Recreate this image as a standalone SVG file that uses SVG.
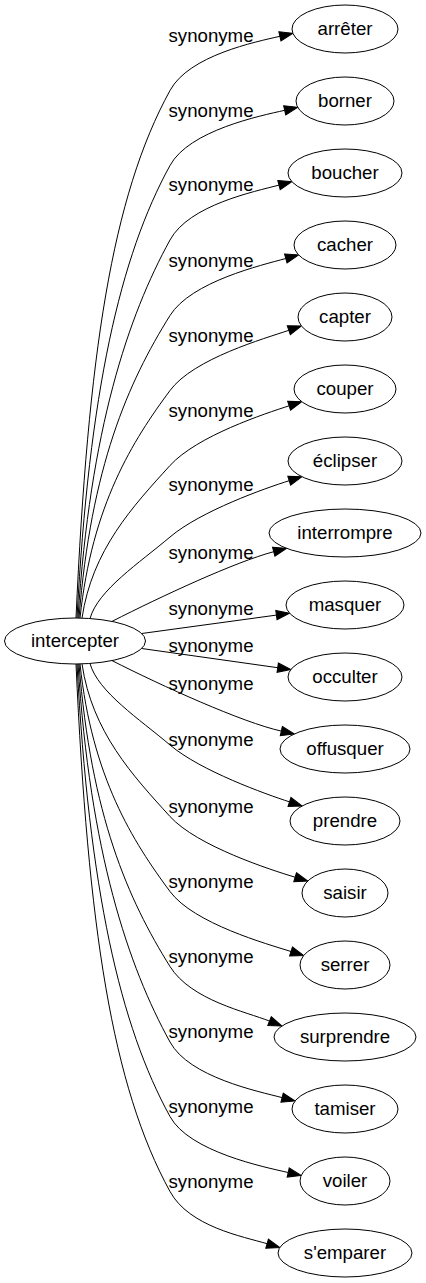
<svg xmlns="http://www.w3.org/2000/svg" width="426" height="1283" viewBox="0 0 426 1283">
<defs>
<style>
.node ellipse{fill:#fff;stroke:#000;stroke-width:1}
text{font-family:"Liberation Sans",Arial,sans-serif;font-size:18.67px;fill:#000;text-anchor:middle}
.edge path{fill:none;stroke:#000;stroke-width:1;marker-end:url(#arr)}
</style>
<marker id="arr" viewBox="0 0 13.3 10" refX="0" refY="5" markerWidth="13.3" markerHeight="10" markerUnits="userSpaceOnUse" orient="auto" overflow="visible">
<path d="M0,0.3 L13.3,5 L0,9.7 Z" fill="#000" stroke="#000" stroke-width="1"/>
</marker>
</defs>
<rect width="426" height="1283" fill="#fff"/>
<g id="edges">
<g class="edge"><path d="M76,618 C88,354.3 112,196 170,90.5 C189.1,55.3 255.6,41.9 279.9,36.3"/><text x="211" y="41.5">synonyme</text></g>
<g class="edge"><path d="M77,618 C89,391.8 120.2,256 170,165.5 C189.1,130.3 260.4,115.8 284.7,110.3"/><text x="211" y="116.5">synonyme</text></g>
<g class="edge"><path d="M78,618 C90,429 128.4,315.6 170,240 C189.1,204.8 254.9,191.5 279,185.1"/><text x="211" y="191">synonyme</text></g>
<g class="edge"><path d="M79,618 C91,466.8 128.1,382.5 170,315.5 C191.2,281.6 261.7,265.1 285.8,258.5"/><text x="211" y="266.5">synonyme</text></g>
<g class="edge"><path d="M80,618.1 C92,504.3 133.2,440.2 170,390.5 C193.8,358.4 265.2,338.4 288.8,330.3"/><text x="211" y="341.5">synonyme</text></g>
<g class="edge"><path d="M82,618.1 C92,550 133,506.2 170,465.5 C196.9,435.9 265.3,413.5 289.1,405.8"/><text x="211" y="416.5">synonyme</text></g>
<g class="edge"><path d="M90,618.5 C98,590 139.5,562.9 170,537 C200.5,511.1 265.4,488.1 289.2,480.7"/><text x="211" y="491">synonyme</text></g>
<g class="edge"><path d="M112,621.4 C162,596 235,562 273.7,551.7"/><text x="211" y="558.5">synonyme</text></g>
<g class="edge"><path d="M141.7,633.5 L276.4,615.1"/><text x="211" y="615">synonyme</text></g>
<g class="edge"><path d="M141.7,648.5 L277.7,667.7"/><text x="211" y="652">synonyme</text></g>
<g class="edge"><path d="M112,660.6 C162,686 242.3,722.4 281.3,731.1"/><text x="211" y="690">synonyme</text></g>
<g class="edge"><path d="M90,663.5 C98,692 139.5,719.1 170,745 C200.5,770.9 265.7,794.1 289.5,801.9"/><text x="211" y="746">synonyme</text></g>
<g class="edge"><path d="M82,663.9 C92,732 133,775.8 170,816.5 C196.9,846.1 271.1,870 295.1,877.2"/><text x="211" y="813">synonyme</text></g>
<g class="edge"><path d="M80,663.9 C92,777.7 133.2,841.8 170,891.5 C193.8,923.6 267.2,944 291,951.5"/><text x="211" y="888">synonyme</text></g>
<g class="edge"><path d="M79,664 C91,815.3 128.1,899.5 170,966.5 C191.2,1000.4 246.3,1011.8 269.5,1021.1"/><text x="211" y="963">synonyme</text></g>
<g class="edge"><path d="M78,664 C90,853 128.4,966.4 170,1042 C189.1,1077.2 258,1091.3 282.1,1097.6"/><text x="211" y="1038">synonyme</text></g>
<g class="edge"><path d="M77,664 C89,890.3 120.2,1026 170,1116.5 C189.1,1151.7 263.9,1167 288.2,1172.5"/><text x="211" y="1113">synonyme</text></g>
<g class="edge"><path d="M76,664 C88,927.8 112,1086 170,1191.5 C189.1,1226.7 243.1,1236.6 267.1,1243.7"/><text x="211" y="1188">synonyme</text></g>
</g>
<g id="node-intercepter" class="node"><ellipse cx="75" cy="641" rx="70.5" ry="23"/><text x="75" y="647">intercepter</text></g>
<g id="node-arreter" class="node"><ellipse cx="345" cy="29" rx="53" ry="24"/><text x="345" y="35">arrêter</text></g>
<g id="node-borner" class="node"><ellipse cx="345" cy="101" rx="49" ry="24"/><text x="345" y="107">borner</text></g>
<g id="node-boucher" class="node"><ellipse cx="345" cy="173" rx="57" ry="24"/><text x="345" y="179">boucher</text></g>
<g id="node-cacher" class="node"><ellipse cx="345" cy="245" rx="51" ry="24"/><text x="345" y="251">cacher</text></g>
<g id="node-capter" class="node"><ellipse cx="345" cy="317" rx="47" ry="24"/><text x="345" y="323">capter</text></g>
<g id="node-couper" class="node"><ellipse cx="345" cy="389" rx="51" ry="24"/><text x="345" y="395">couper</text></g>
<g id="node-eclipser" class="node"><ellipse cx="345" cy="461" rx="57" ry="24"/><text x="345" y="467">éclipser</text></g>
<g id="node-interrompre" class="node"><ellipse cx="345" cy="533" rx="76" ry="24"/><text x="345" y="539">interrompre</text></g>
<g id="node-masquer" class="node"><ellipse cx="345" cy="605" rx="59" ry="24"/><text x="345" y="611">masquer</text></g>
<g id="node-occulter" class="node"><ellipse cx="345" cy="677" rx="57" ry="24"/><text x="345" y="683">occulter</text></g>
<g id="node-offusquer" class="node"><ellipse cx="345" cy="749" rx="65" ry="24"/><text x="345" y="755">offusquer</text></g>
<g id="node-prendre" class="node"><ellipse cx="345" cy="821" rx="55" ry="24"/><text x="345" y="827">prendre</text></g>
<g id="node-saisir" class="node"><ellipse cx="345" cy="893" rx="43" ry="24"/><text x="345" y="899">saisir</text></g>
<g id="node-serrer" class="node"><ellipse cx="345" cy="965" rx="45" ry="24"/><text x="345" y="971">serrer</text></g>
<g id="node-surprendre" class="node"><ellipse cx="345" cy="1037" rx="71" ry="24"/><text x="345" y="1043">surprendre</text></g>
<g id="node-tamiser" class="node"><ellipse cx="345" cy="1109" rx="53" ry="24"/><text x="345" y="1115">tamiser</text></g>
<g id="node-voiler" class="node"><ellipse cx="345" cy="1181" rx="45" ry="24"/><text x="345" y="1187">voiler</text></g>
<g id="node-semparer" class="node"><ellipse cx="345" cy="1253" rx="67" ry="24"/><text x="345" y="1259">s'emparer</text></g>
</svg>
